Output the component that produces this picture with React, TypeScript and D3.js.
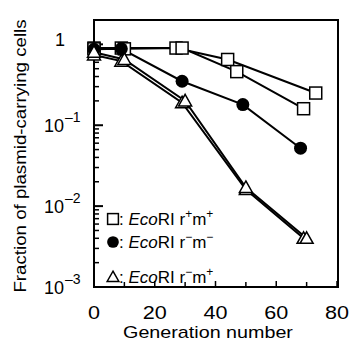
import React from 'react'
import * as d3 from 'd3'

// generation number vs fraction of plasmid-carrying cells
const sqA_gen = [0, 9, 27, 44, 73]
const sqA_val = [0.9, 0.9, 0.9, 0.65, 0.25]
const sqB_gen = [0, 10, 29, 47, 69]
const sqB_val = [0.88, 0.88, 0.9, 0.46, 0.16]
const circ_gen = [0, 9, 29, 49, 68]
const circ_val = [0.87, 0.88, 0.35, 0.18, 0.052]
const triA_gen = [0, 9, 29, 50, 69]
const triA_val = [0.74, 0.62, 0.19, 0.016, 0.004]
const triB_gen = [0, 10, 30, 50, 70]
const triB_val = [0.8, 0.65, 0.2, 0.017, 0.004]

const xTicks = [0, 20, 40, 60, 80]
const xMinor = [10, 30, 50, 70]
const yDecades = [1, 0.1, 0.01, 0.001]
const yLabels = ['1', '\u20131', '\u20132', '\u20133']

const legendItems = [
  { shape: 'square', sup1: '+', sup2: '+' },
  { shape: 'circle', sup1: '\u2212', sup2: '\u2212' },
  { shape: 'triangle', sup1: '\u2212', sup2: '+' },
]

const font = 'Liberation Sans, Arial, Helvetica, sans-serif'

const App = () => {
  const x = d3.scaleLinear().domain([0, 80]).range([94, 337])
  const y = d3.scaleLog().domain([0.001, 2]).range([287, 20])

  const line = d3.line<[number, number]>().x(d => x(d[0])).y(d => y(d[1]))
  const zip = (g: number[], v: number[]) => g.map((d, i) => [d, v[i]] as [number, number])

  const series = [
    { pts: zip(sqA_gen, sqA_val), shape: 'square' },
    { pts: zip(sqB_gen, sqB_val), shape: 'square' },
    { pts: zip(circ_gen, circ_val), shape: 'circle' },
    { pts: zip(triA_gen, triA_val), shape: 'triangle' },
    { pts: zip(triB_gen, triB_val), shape: 'triangle' },
  ]

  const marker = (shape: string, cx: number, cy: number, key: string, s = 1) => {
    if (shape === 'square')
      return <rect key={key} x={cx - 6 * s} y={cy - 6 * s} width={12 * s} height={12 * s} fill="white" stroke="black" strokeWidth={1.5} />
    if (shape === 'circle')
      return <circle key={key} cx={cx} cy={cy} r={6.5 * s} fill="black" />
    return <path key={key} d={`M${cx},${cy - 6.5 * s}L${cx + 6.5 * s},${cy + 5 * s}L${cx - 6.5 * s},${cy + 5 * s}Z`} fill="white" stroke="black" strokeWidth={1.5} />
  }

  const minorTicks: number[] = []
  ;[0.001, 0.01, 0.1, 1].forEach(d => {
    for (let k = 2; k <= 9; k++) if (d * k <= 2) minorTicks.push(d * k)
  })

  return (
    <svg width={349} height={342} style={{ position: 'absolute', left: 0, top: 0, fontFamily: font }}>
      <rect x={0} y={0} width={349} height={342} fill="white" />
      {/* frame */}
      <rect x={94} y={20} width={244} height={267} fill="none" stroke="black" strokeWidth={2} />

      {/* y ticks */}
      {yDecades.map(d => <line key={'M' + d} x1={94} x2={103} y1={y(d)} y2={y(d)} stroke="black" strokeWidth={2} />)}
      {minorTicks.map(d => <line key={'m' + d} x1={94} x2={99} y1={y(d)} y2={y(d)} stroke="black" strokeWidth={1.5} />)}
      {/* x ticks */}
      {xTicks.map(d => <line key={'x' + d} x1={x(d)} x2={x(d)} y1={287} y2={281} stroke="black" strokeWidth={1.5} />)}
      {xMinor.map(d => <line key={'xm' + d} x1={x(d)} x2={x(d)} y1={287} y2={282} stroke="black" strokeWidth={1.5} />)}

      {/* y tick labels */}
      {yDecades.map((d, i) =>
        i === 0 ? (
          <text key={'yl' + d} x={60} y={y(d) + 2} textAnchor="middle" fontSize={18}>1</text>
        ) : (
          <text key={'yl' + d} x={44} y={y(d) + 7} fontSize={18}>
            10<tspan dx={1} dy={-10} fontSize={14}>{yLabels[i]}</tspan>
          </text>
        )
      )}

      {/* x tick labels */}
      {xTicks.map(d => (
        <text key={'xl' + d} transform={`translate(${x(d)},319) scale(1.2,1)`} textAnchor="middle" fontSize={18}>{d}</text>
      ))}

      <text transform="translate(208,338) scale(1.16,1)" textAnchor="middle" fontSize={17}>Generation number</text>
      <g opacity={0.999}>
        <text transform="translate(26,156) rotate(-90) scale(1.1,1)" textAnchor="middle" fontSize={17} fill="black">Fraction of plasmid-carrying cells</text>
      </g>

      {/* lines */}
      {series.map((s, i) => <path key={'l' + i} d={line(s.pts) || ''} fill="none" stroke="black" strokeWidth={2} />)}
      {/* markers */}
      {series.map((s, i) => s.pts.map((p, j) => marker(s.shape, x(p[0]), y(p[1]), `p${i}-${j}`)))}

      {/* legend */}
      {legendItems.map((it, i) => {
        const cy = [219, 242, 277][i]
        return (
          <g key={'lg' + i}>
            {marker(it.shape, 113, cy, 'lm' + i, 0.9)}
            <text x={119} y={cy + 6} fontSize={17}>
              :{' '}<tspan fontStyle="italic">Eco</tspan>RI r<tspan dy={-7} fontSize={12}>{it.sup1}</tspan>
              <tspan dy={7}>m</tspan><tspan dy={-7} fontSize={12}>{it.sup2}</tspan>
            </text>
          </g>
        )
      })}
    </svg>
  )
}

export default App
